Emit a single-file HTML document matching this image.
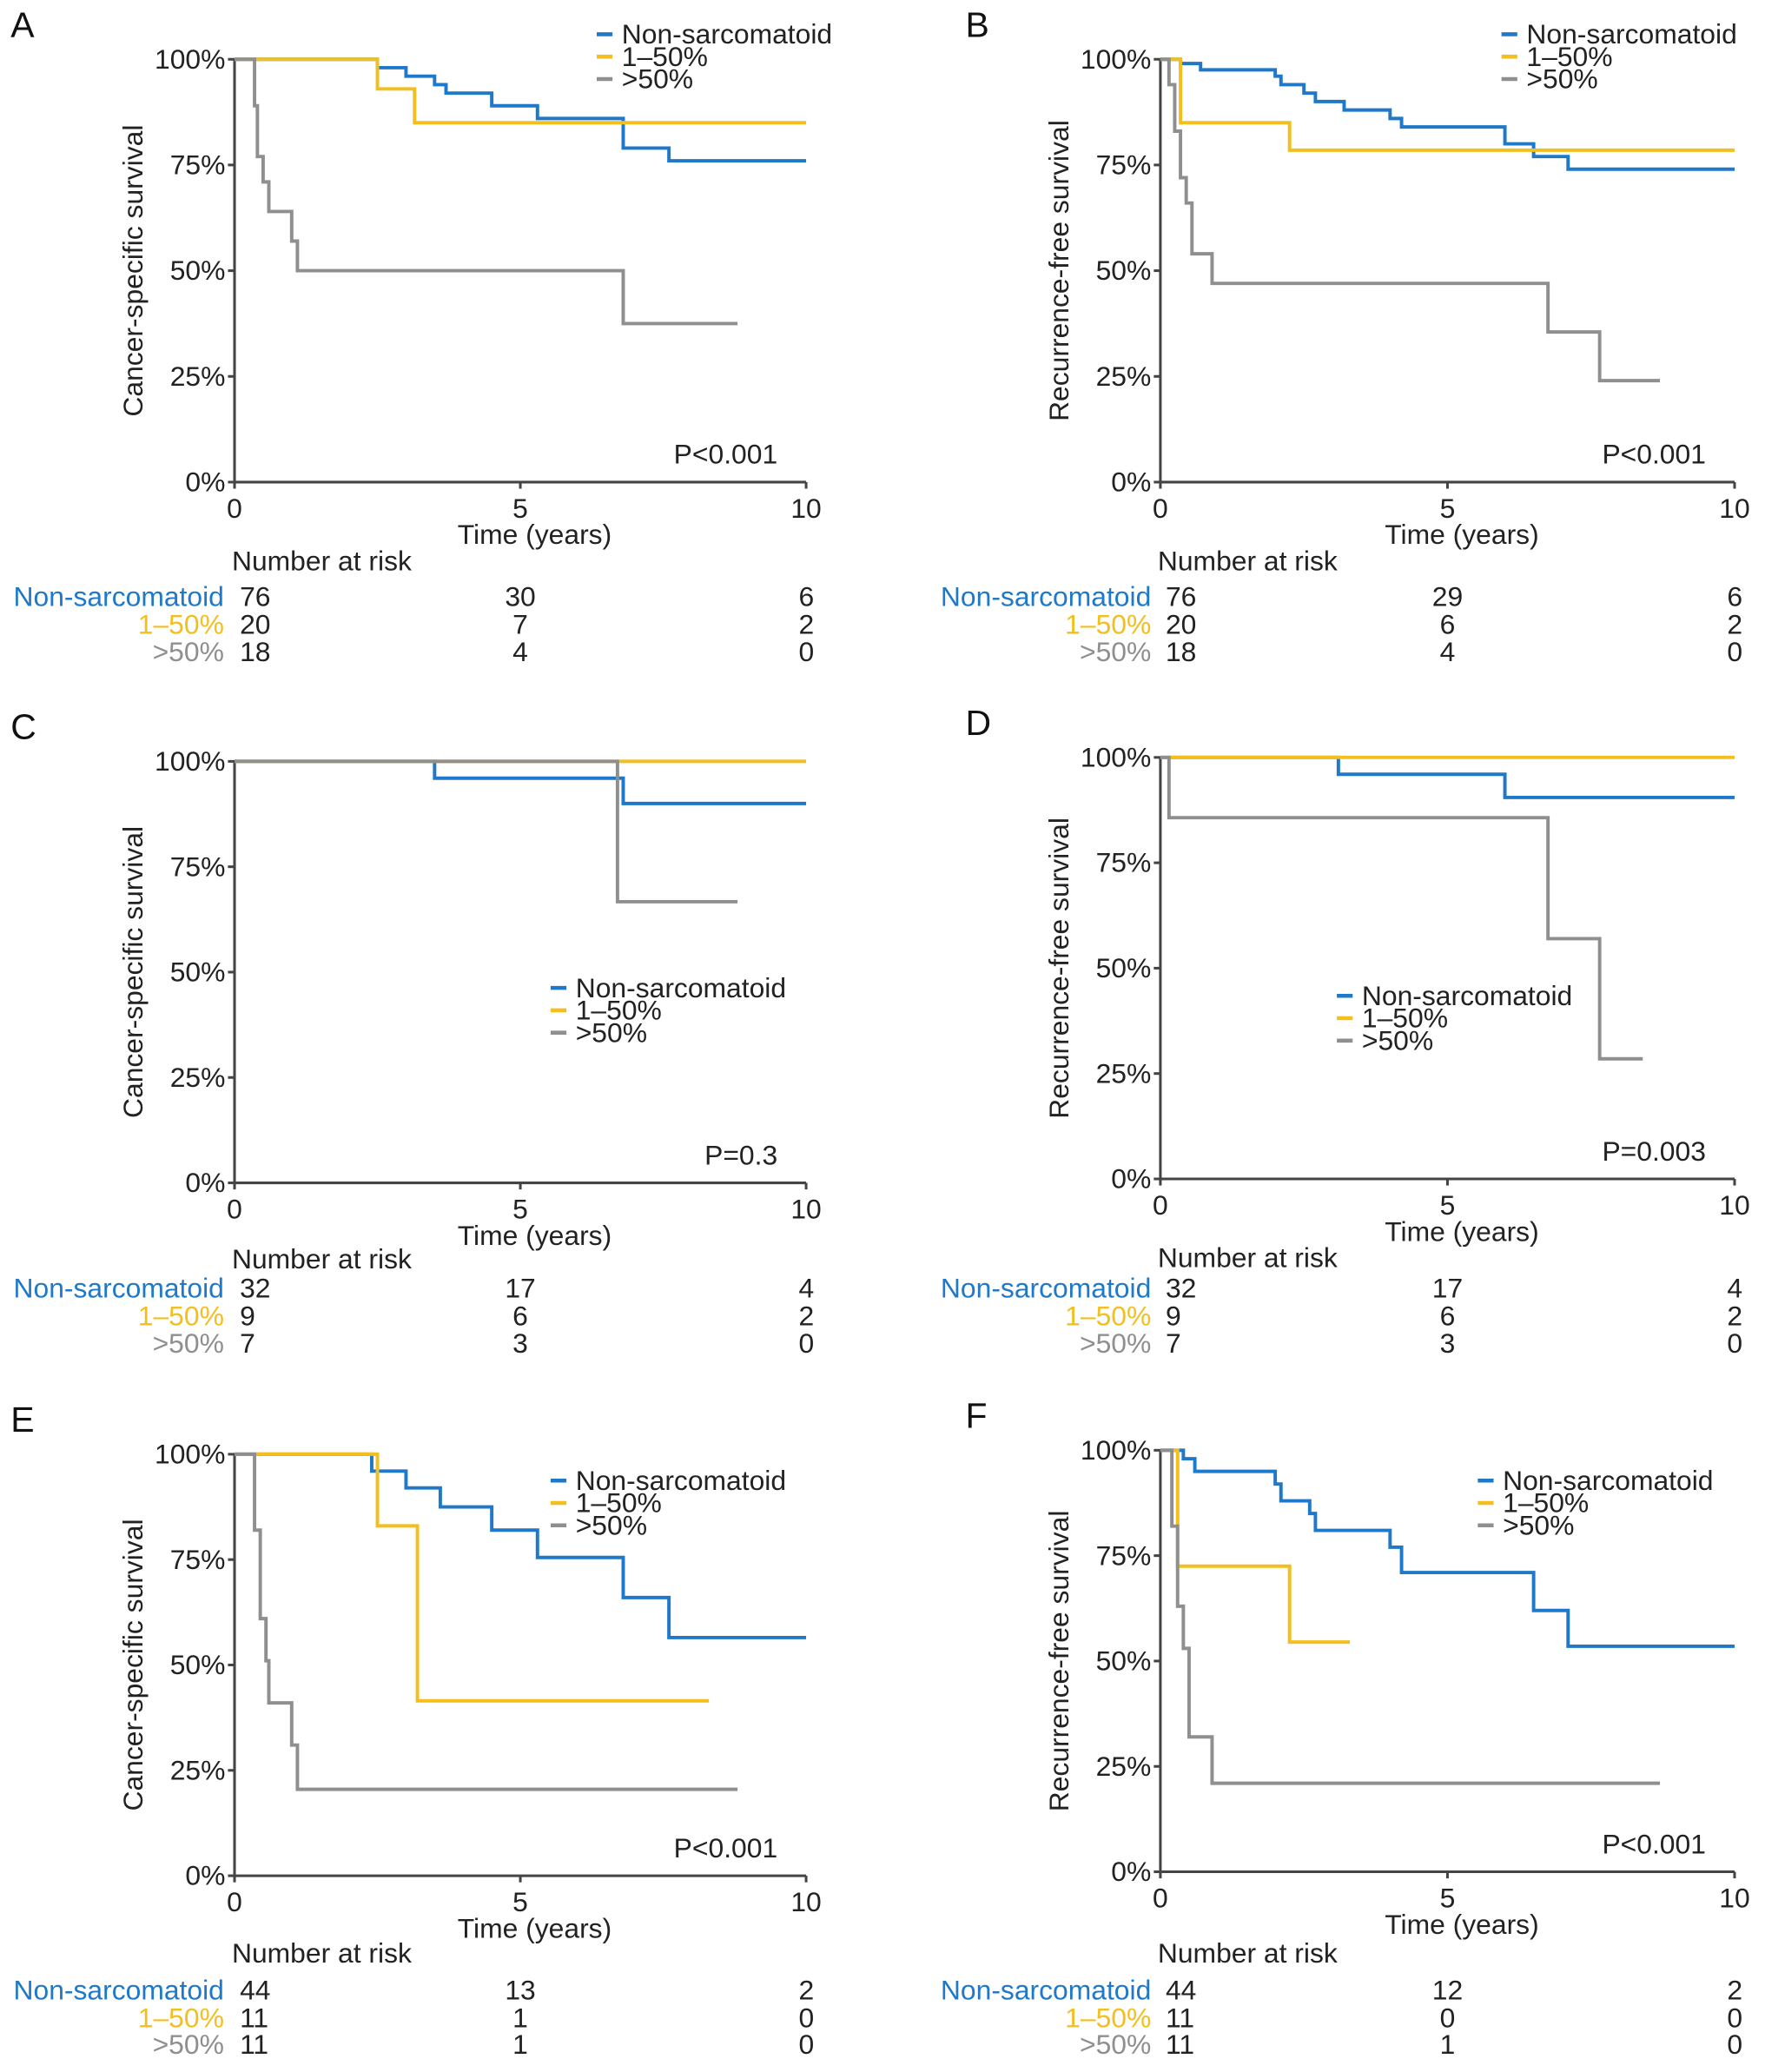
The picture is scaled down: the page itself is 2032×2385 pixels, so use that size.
<!DOCTYPE html>
<html><head><meta charset="utf-8"><style>
html,body{margin:0;padding:0;background:#fff;}
svg{display:block;font-family:"Liberation Sans",Arial,sans-serif;}
</style></head><body>
<svg id="fig" width="2032" height="2385" viewBox="0 0 1340 1573" xmlns="http://www.w3.org/2000/svg"></svg>
<script>
const panelLetters = ["A","B","C","D","E","F"];
const yTitles = ["Cancer-specific survival","Recurrence-free survival","Cancer-specific survival","Recurrence-free survival","Cancer-specific survival","Recurrence-free survival"];
const pValues = ["P<0.001","P<0.001","P=0.3","P=0.003","P<0.001","P<0.001"];
const groupNames = ["Non-sarcomatoid","1\u201350%",">50%"];
const xTicks = [0,5,10];
const yTicks = [0,25,50,75,100];
const yTickLabels = ["0%","25%","50%","75%","100%"];
const A_blueT=[2.5,3.0,3.5,3.7,4.5,5.3,6.8,7.6], A_blueV=[98,96,94,92,89,86,79,76], A_blueEnd=10;
const A_yelT=[2.5,3.15], A_yelV=[93,85], A_yelEnd=10;
const A_grayT=[0.35,0.4,0.5,0.6,1.0,1.1,6.8], A_grayV=[89,77,71,64,57,50,37.5], A_grayEnd=8.8;
const B_blueT=[0.35,0.7,2.0,2.1,2.5,2.7,3.2,4.0,4.2,6.0,6.5,7.1], B_blueV=[99,97.5,96,94,92,90,88,86,84,80,77,74], B_blueEnd=10;
const B_yelT=[0.35,2.25], B_yelV=[85,78.5], B_yelEnd=10;
const B_grayT=[0.15,0.25,0.35,0.45,0.55,0.9,6.75,7.65], B_grayV=[94,83,72,66,54,47,35.5,24], B_grayEnd=8.7;
const C_blueT=[3.5,6.8], C_blueV=[96,90], C_blueEnd=10;
const C_yelT=[], C_yelV=[], C_yelEnd=10;
const C_grayT=[6.7], C_grayV=[66.7], C_grayEnd=8.8;
const D_blueT=[3.1,6.0], D_blueV=[96,90.5], D_blueEnd=10;
const D_yelT=[], D_yelV=[], D_yelEnd=10;
const D_grayT=[0.15,6.75,7.65], D_grayV=[85.7,57,28.5], D_grayEnd=8.4;
const E_blueT=[2.4,3.0,3.6,4.5,5.3,6.8,7.6], E_blueV=[96,92,87.5,82,75.5,66,56.5], E_blueEnd=10;
const E_yelT=[2.5,3.2], E_yelV=[83,41.5], E_yelEnd=8.3;
const E_grayT=[0.35,0.45,0.55,0.6,1.0,1.1], E_grayV=[82,61,51,41,31,20.5], E_grayEnd=8.8;
const F_blueT=[0.4,0.6,2.0,2.1,2.6,2.7,4.0,4.2,6.5,7.1], F_blueV=[98,95,92,88,85,81,77,71,62,53.5], F_blueEnd=10;
const F_yelT=[0.3,2.25], F_yelV=[72.5,54.5], F_yelEnd=3.3;
const F_grayT=[0.2,0.3,0.4,0.5,0.9], F_grayV=[82,63,53,32,21], F_grayEnd=8.7;
const riskA=[[76,30,6],[20,7,2],[18,4,0]];
const riskB=[[76,29,6],[20,6,2],[18,4,0]];
const riskC=[[32,17,4],[9,6,2],[7,3,0]];
const riskD=[[32,17,4],[9,6,2],[7,3,0]];
const riskE=[[44,13,2],[11,1,0],[11,1,0]];
const riskF=[[44,12,2],[11,0,0],[11,1,0]];

const colors=["#1f78c8","#f2bf1f","#8f8f8f"];
const svg=document.getElementById('fig');
const NS="http://www.w3.org/2000/svg";
const FS=21;
function mk(tag,attrs,parent){const e=document.createElementNS(NS,tag);for(const k in attrs)e.setAttribute(k,attrs[k]);(parent||svg).appendChild(e);return e;}
function txt(s,attrs,parent){const e=mk('text',attrs,parent);e.textContent=s;return e;}

const layouts=[
 {x0:178,x1:612,y100:45,y0:366,lx:453,ly:26,risk:[60,87,108,129],labX:170,letX:8},
 {x0:881,x1:1317,y100:45,y0:366,lx:1140,ly:26,risk:[60,87,108,129],labX:874,letX:733},
 {x0:178,x1:612,y100:578,y0:898,lx:418,ly:750,risk:[58,80,101,122],labX:170,letX:8},
 {x0:881,x1:1317,y100:575,y0:895,lx:1015,ly:756,risk:[60,83,104,125],labX:874,letX:733},
 {x0:178,x1:612,y100:1104,y0:1424,lx:418,ly:1124,risk:[59,87,108,128],labX:170,letX:8},
 {x0:881,x1:1317,y100:1101,y0:1421,lx:1122,ly:1124,risk:[62,90,111,131],labX:874,letX:733}
];
const series=[
 [[A_blueT,A_blueV,A_blueEnd],[A_yelT,A_yelV,A_yelEnd],[A_grayT,A_grayV,A_grayEnd]],
 [[B_blueT,B_blueV,B_blueEnd],[B_yelT,B_yelV,B_yelEnd],[B_grayT,B_grayV,B_grayEnd]],
 [[C_blueT,C_blueV,C_blueEnd],[C_yelT,C_yelV,C_yelEnd],[C_grayT,C_grayV,C_grayEnd]],
 [[D_blueT,D_blueV,D_blueEnd],[D_yelT,D_yelV,D_yelEnd],[D_grayT,D_grayV,D_grayEnd]],
 [[E_blueT,E_blueV,E_blueEnd],[E_yelT,E_yelV,E_yelEnd],[E_grayT,E_grayV,E_grayEnd]],
 [[F_blueT,F_blueV,F_blueEnd],[F_yelT,F_yelV,F_yelEnd],[F_grayT,F_grayV,F_grayEnd]]
];
const risks=[riskA,riskB,riskC,riskD,riskE,riskF];
const serNames=['non-sarcomatoid','1-50','gt-50'];

layouts.forEach((L,p)=>{
 const g=mk('g',{});
 
 
 const X=t=>L.x0+(L.x1-L.x0)*t/10;
 const Y=v=>L.y0-(L.y0-L.y100)*v/100;
 const lt=txt(panelLetters[p],{x:L.letX,y:L.y100-17,'font-size':27,fill:'#111'},g);
 
 
 const ax=mk('path',{d:`M${L.x0},${L.y100} V${L.y0} H${L.x1}`,stroke:'#444','stroke-width':2,fill:'none'},g);
 
 
 yTicks.forEach((v,i)=>{
  mk('line',{x1:L.x0-5,x2:L.x0,y1:Y(v),y2:Y(v),stroke:'#444','stroke-width':2},g);
  const t=txt(yTickLabels[i],{x:L.x0-7,y:Y(v)+7,'font-size':FS,'text-anchor':'end',fill:'#222'},g);
  
  
 });
 xTicks.forEach(v=>{
  mk('line',{x1:X(v),x2:X(v),y1:L.y0,y2:L.y0+5,stroke:'#444','stroke-width':2},g);
  const t=txt(String(v),{x:X(v),y:L.y0+27,'font-size':FS,'text-anchor':'middle',fill:'#222'},g);
  
  
 });
 const xt=txt('Time (years)',{x:X(5.25),y:L.y0+47,'font-size':FS,'text-anchor':'middle',fill:'#222'},g);
 
 
 const yc=(L.y0+L.y100)/2;
 const yt=txt(yTitles[p],{x:0,y:0,'font-size':FS,'text-anchor':'middle',fill:'#222',transform:`translate(${L.x0-70},${yc}) rotate(-90)`},g);
 
 
 const pv=txt(pValues[p],{x:X(9.5),y:L.y0-14,'font-size':FS,'text-anchor':'end',fill:'#222'},g);
 
 
 series[p].forEach((s,k)=>{
  const [T,V,end]=s;
  let d=`M${X(0)},${Y(100)}`;
  T.forEach((t,i)=>{d+=` H${X(t)} V${Y(V[i])}`;});
  d+=` H${X(end)}`;
  const c=mk('path',{d:d,stroke:colors[k],'stroke-width':2.6,fill:'none'},g);
  
  
 });
 groupNames.forEach((n,k)=>{
  const yy=L.ly+k*17;
  const m=mk('line',{x1:L.lx,x2:L.lx+12,y1:yy,y2:yy,stroke:colors[k],'stroke-width':3},g);
  
  
  const t=txt(n,{x:L.lx+19,y:yy+7,'font-size':FS,fill:'#222'},g);
  
  
 });
 const nar=txt('Number at risk',{x:L.x0-2,y:L.y0+L.risk[0]+7,'font-size':FS,fill:'#222'},g);
 
 
 risks[p].forEach((row,k)=>{
  const yy=L.y0+L.risk[k+1]+7;
  const lb=txt(groupNames[k],{x:L.labX,y:yy,'font-size':FS,'text-anchor':'end',fill:colors[k]},g);
  
  
  row.forEach((v,j)=>{
   const anchor=j===0?'start':(j===1?'middle':'end');
   const xx=j===0?L.x0+4:(j===1?X(5):X(10)+6);
   const t=txt(String(v),{x:xx,y:yy,'font-size':FS,'text-anchor':anchor,fill:'#222'},g);
   
   
  });
 });
});
</script>
</body></html>
